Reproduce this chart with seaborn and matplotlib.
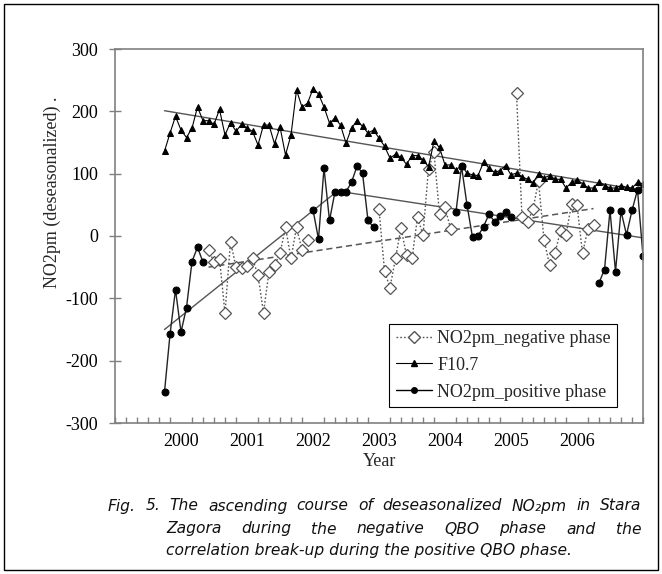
import numpy as np
import pandas as pd
import matplotlib
matplotlib.use("Agg")
import matplotlib.pyplot as plt
import seaborn as sns
from matplotlib.lines import Line2D
from matplotlib.patches import Rectangle
from matplotlib.ticker import FixedLocator

# ---------------- data (monthly, Oct 1999 .. Jan 2007) ----------------
start_year = 1999.75          # October 1999
f107 = [136, 165, 192, 170, 158, 173, 207, 185, 185, 179, 203, 162,
        182, 168, 179, 173, 168, 146, 178, 178, 148, 175, 130, 162,
        234, 207, 213, 236, 228, 207, 181, 189, 178, 149, 173, 185,
        176, 165, 170, 157, 144, 125, 131, 126, 115, 129, 129, 122,
        111, 152, 142, 114, 114, 106, 113, 101, 98, 97, 118, 109,
        102, 105, 113, 98, 101, 95, 91, 85, 100, 93, 97, 91,
        91, 77, 86, 90, 84, 77, 77, 87, 81, 77, 77, 81,
        78, 77, 86, 84]

N = None
no2_neg = [N, N, N, N, N, N, N, N, -22, -42, -37, -124,
           -9, -50, -51, -48, -36, -63, -123, -57, -47, -28, 14, -36,
           14, -22, -7, N, N, N, N, N, N, N, N, N,
           N, N, N, 43, -56, -83, -36, 13, -31, -36, 30, 2,
           108, 134, 35, 46, 12, N, N, N, N, N, N, N,
           N, N, N, N, 229, 30, 22, 43, 88, -6, -46, -27,
           8, 2, 51, 50, -28, 12, 18, N, N, N, N, N,
           N, N, N, N]

no2_pos = [-250, -158, -86, -154, -115, -41, -18, -42, N, N, N, N,
           N, N, N, N, N, N, N, N, N, N, N, N,
           N, N, N, 42, -5, 109, 25, 71, 71, 71, 86, 112,
           101, 25, 14, N, N, N, N, N, N, N, N, N,
           N, N, N, N, N, 39, 112, 50, -2, 0, 15, 35,
           23, 32, 38, 30, N, N, N, N, N, N, N, N,
           N, N, N, N, N, N, N, -75, -54, 41, -57, 40,
           2, 41, 74, -32]

# linear trend lines: (month index, value) at both ends
f107_trend_idx = [0, 87]
f107_trend_val = [201, 73]
neg_trend_idx = [8, 78]
neg_trend_val = [-50, 44]
pos_trend1_idx = [0, 31]
pos_trend1_val = [-150, 69]
pos_trend2_idx = [33, 87]
pos_trend2_val = [70, -3]

x_ticks = [2000, 2001, 2002, 2003, 2004, 2005, 2006]
y_ticks = [-300, -200, -100, 0, 100, 200, 300]
labels = ["NO2pm_negative phase", "F10.7", "NO2pm_positive phase"]

# ---------------- preparation ----------------
n = len(f107)
years = start_year + np.arange(n) / 12.0


def seg_frame(vals):
    v = np.array([np.nan if a is None else a for a in vals], dtype=float)
    seg = np.cumsum(np.r_[1, np.diff(np.isnan(v).astype(int)) != 0])
    df = pd.DataFrame({"year": years, "value": v, "seg": seg})
    return df.dropna()


def trend_frame(idx, val):
    return pd.DataFrame({"year": years[np.array(idx)], "value": val})


neg_df = seg_frame(no2_neg)
pos_df = seg_frame(no2_pos)
f_df = pd.DataFrame({"year": years, "value": np.array(f107, float)})

W, H = 662, 574
sns.set_theme(style="white")
plt.rcParams["font.family"] = ["Liberation Serif", "DejaVu Serif"]

fig = plt.figure(figsize=(W / 100, H / 100), dpi=100)
ax = fig.add_axes([115 / W, 1 - 423 / H, 528 / W, 374 / H])

grey = "#555555"
# trend lines
sns.lineplot(data=trend_frame(neg_trend_idx, neg_trend_val), x="year", y="value",
             ax=ax, color=grey, lw=1.1, linestyle=(0, (4, 2.5)))
sns.lineplot(data=trend_frame(f107_trend_idx, f107_trend_val), x="year", y="value",
             ax=ax, color=grey, lw=1.0)
sns.lineplot(data=trend_frame(pos_trend1_idx, pos_trend1_val), x="year", y="value",
             ax=ax, color=grey, lw=1.0)
sns.lineplot(data=trend_frame(pos_trend2_idx, pos_trend2_val), x="year", y="value",
             ax=ax, color=grey, lw=1.0)

# series
sns.lineplot(data=neg_df, x="year", y="value", units="seg", estimator=None,
             ax=ax, color=grey, lw=1.0, linestyle=(0, (1.2, 1.5)),
             marker="D", markersize=6.3, markerfacecolor="white",
             markeredgecolor=grey, markeredgewidth=0.9, sort=False)
sns.lineplot(data=f_df, x="year", y="value", ax=ax, color="black", lw=0.8,
             marker="^", markersize=4.5, markeredgecolor="black",
             markerfacecolor="black", sort=False)
sns.lineplot(data=pos_df, x="year", y="value", units="seg", estimator=None,
             ax=ax, color="#222222", lw=1.0, marker="o", markersize=5,
             markerfacecolor="black", markeredgecolor="black", sort=False)

# axes styling
ax.set_xlim(1999, 2007)
ax.set_ylim(-300, 300)
ax.set_xticks(x_ticks)
ax.set_xticklabels([str(t) for t in x_ticks])
ax.xaxis.set_minor_locator(FixedLocator(1999 + np.arange(0, 49) / 6.0))
ax.set_yticks(y_ticks)
ax.set_yticklabels([str(t) for t in y_ticks])
ax.set_xlabel("")
ax.set_ylabel("")
for s in ax.spines.values():
    s.set_color("#808080")
    s.set_linewidth(1.2)
ax.tick_params(axis="x", which="major", direction="inout", length=9,
               width=1, color="#808080", labelsize=13, pad=3)
ax.tick_params(axis="x", which="minor", direction="in", length=4,
               width=1, color="#808080", bottom=True)
ax.tick_params(axis="y", which="major", direction="inout", length=8,
               width=1, color="#808080", labelsize=13, pad=8, left=True)
ax.tick_params(axis="both", labelcolor="black")

# legend
handles = [
    Line2D([], [], color=grey, lw=1.0, linestyle=(0, (1.2, 1.5)), marker="D",
           markersize=6, markerfacecolor="white", markeredgecolor=grey),
    Line2D([], [], color="black", lw=0.8, marker="^", markersize=4.5),
    Line2D([], [], color="black", lw=1.0, marker="o", markersize=4),
]
leg = ax.legend(handles, labels, loc="lower right",
                bbox_to_anchor=((617 - 115) / 528, (423 - 407) / 374),
                borderaxespad=0, fontsize=13, frameon=True,
                fancybox=False, edgecolor="black", framealpha=1,
                handlelength=2.0, handletextpad=0.3, borderpad=0.35,
                labelspacing=0.55)
leg.get_frame().set_linewidth(0.8)

# axis titles
fig.text(52 / W, 1 - 192 / H, "NO2pm (deseasonalized) .", rotation=90,
         ha="center", va="center", fontsize=13)
fig.text(380 / W, 1 - 461 / H, "Year", ha="center", va="center", fontsize=13)

# caption (justified like the source)
cap_font = dict(family=["DejaVu Sans"], style="italic", size=11.2, color="#111111")
renderer = fig.canvas.get_renderer()
cap_lines = [
    ("Fig. 5. The ascending course of deseasonalized NO\u2082pm in Stara", 108, 641, 506, True),
    ("Zagora during the negative QBO phase and the", 166, 641, 529, True),
    ("correlation break-up during the positive QBO phase.", 166, None, 551, False),
]
for text, x0, x1, yc, justify in cap_lines:
    if not justify:
        fig.text(x0 / W, 1 - yc / H, text, ha="left", va="center", **cap_font)
        continue
    words = text.split()
    ts = [fig.text(0, 0, w, ha="left", va="center", **cap_font) for w in words]
    widths = [t.get_window_extent(renderer).width for t in ts]
    gap = (x1 - x0 - sum(widths)) / (len(words) - 1)
    x = x0
    for t, w in zip(ts, widths):
        t.set_position((x / W, 1 - yc / H))
        x += w + gap

# outer frame
fig.patches.append(Rectangle((4 / W, 4 / H), 1 - 8 / W, 1 - 8 / H,
                             transform=fig.transFigure, fill=False,
                             ec="black", lw=1.0))

fig.savefig("out.png", dpi=100)
